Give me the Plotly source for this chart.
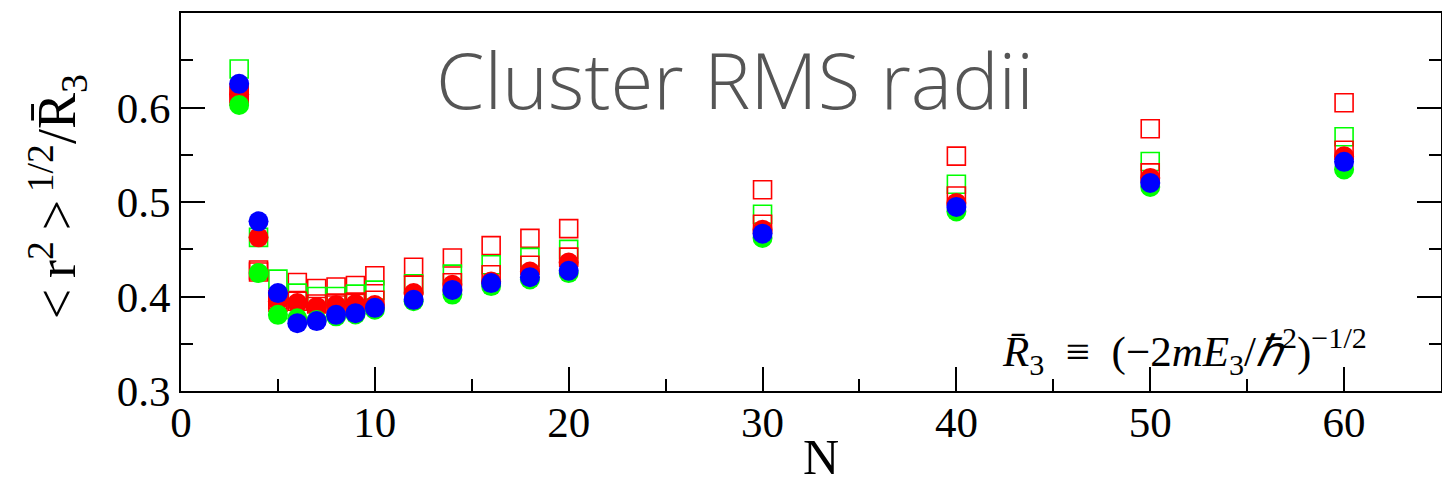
import plotly.graph_objects as go

N = [3, 4, 5, 6, 7, 8, 9, 10, 12, 14, 16, 18, 20, 30, 40, 50, 60]

# open squares
red_sq_hi = [0.615, 0.428, 0.397, 0.4148, 0.4085, 0.410, 0.4117, 0.422, 0.431, 0.4407, 0.4538, 0.4615, 0.4718, 0.513, 0.5485, 0.5775, 0.605]
green_sq = [0.6407, 0.4626, 0.4184, 0.4036, 0.400, 0.400, 0.4025, 0.4067, 0.4135, 0.4237, 0.4336, 0.4414, 0.4499, 0.487, 0.5188, 0.5428, 0.569]
red_sq_lo = [0.612, 0.426, 0.394, 0.395, 0.392, 0.393, 0.394, 0.396, 0.412, 0.4145, 0.423, 0.433, 0.4417, 0.4764, 0.5064, 0.5308, 0.5548]

# filled circles
red_circ = [0.614, 0.4626, 0.395, 0.393, 0.389, 0.391, 0.392, 0.391, 0.4036, 0.4124, 0.416, 0.4265, 0.436, 0.4707, 0.499, 0.5255, 0.5485]
green_circ = [0.6026, 0.4248, 0.3806, 0.377, 0.375, 0.379, 0.381, 0.386, 0.395, 0.402, 0.411, 0.418, 0.4248, 0.462, 0.490, 0.516, 0.5344]
blue_circ = [0.625, 0.4795, 0.4036, 0.3718, 0.374, 0.3806, 0.3824, 0.388, 0.3965, 0.407, 0.4142, 0.4205, 0.4273, 0.4665, 0.4948, 0.5202, 0.5425]

x_ticks = [0, 10, 20, 30, 40, 50, 60]
y_ticks = [0.3, 0.4, 0.5, 0.6]

fig = go.Figure()

def sq(y, color):
    fig.add_trace(go.Scatter(x=N, y=y, mode="markers",
                             marker=dict(symbol="square-open", size=18, color=color,
                                         line=dict(width=1.6, color=color)),
                             showlegend=False, hoverinfo="skip"))

def circ(y, color):
    fig.add_trace(go.Scatter(x=N, y=y, mode="markers",
                             marker=dict(symbol="circle", size=20, color=color,
                                         line=dict(width=0)),
                             showlegend=False, hoverinfo="skip"))

sq(red_sq_hi, "#ff0000")
sq(green_sq, "#00ff00")
sq(red_sq_lo, "#ff0000")
circ(red_circ, "#ff0000")
circ(green_circ, "#00ff00")
circ(blue_circ, "#0000ff")

tickfont = dict(family="Liberation Serif", size=43, color="black")

fig.update_xaxes(range=[0, 65], tickvals=x_ticks, ticks="inside", ticklen=24, tickwidth=2,
                 tickcolor="black", showline=True, linecolor="black", linewidth=2,
                 mirror=True, showgrid=False, zeroline=False, tickfont=tickfont,
                 ticklabelstandoff=-8, automargin=False,
                 minor=dict(dtick=5, tick0=0, ticks="inside", ticklen=12, tickwidth=1.5,
                            tickcolor="black", showgrid=False))
fig.update_yaxes(range=[0.3, 0.7], tickvals=y_ticks, ticktext=["0.3", "0.4", "0.5", "0.6"],
                 ticks="inside", ticklen=24, tickwidth=2, tickcolor="black",
                 showline=True, linecolor="black", linewidth=2, mirror="ticks",
                 showgrid=False, zeroline=False, tickfont=tickfont, automargin=False,
                 minor=dict(tickvals=[0.35, 0.45, 0.55, 0.65], ticks="inside", ticklen=12,
                            tickwidth=2, tickcolor="black", showgrid=False))

# x-axis title
fig.add_annotation(text="N", xref="x", yref="paper", x=33.0, y=0, yshift=-66,
                   showarrow=False, xanchor="center", yanchor="middle",
                   font=dict(family="Liberation Serif", size=50, color="black"))

# y-axis title
fig.add_annotation(text="&lt;\u2009r<sup>2</sup>\u2009&gt;<sup>\u20091/2</sup>/R\u0304<sub>3</sub>",
                   xref="paper", yref="y", x=0, y=0.505, xshift=-124, textangle=-90,
                   showarrow=False, xanchor="center", yanchor="middle",
                   font=dict(family="Liberation Serif", size=54, color="black"))

fig.add_annotation(text="Cluster RMS radii", xref="x", yref="y", x=28.6, y=0.63,
                   showarrow=False, xanchor="center", yanchor="middle",
                   font=dict(family="Open Sans", size=78, color="#555555", weight=300))

fig.add_annotation(text="<i>R\u0304</i><sub>3</sub>\u2002\u2261\u2002(\u22122<i>mE</i><sub>3</sub>/<i>\u210f</i><sup>2</sup>)<sup>\u22121/2</sup>",
                   xref="x", yref="y", x=61.3, y=0.342, showarrow=False,
                   xanchor="right", yanchor="middle",
                   font=dict(family="Liberation Serif", size=43, color="black"))

fig.update_layout(width=1442, height=485, margin=dict(l=181, r=1, t=13, b=94),
                  paper_bgcolor="white", plot_bgcolor="white")

fig.write_html("out.html")
